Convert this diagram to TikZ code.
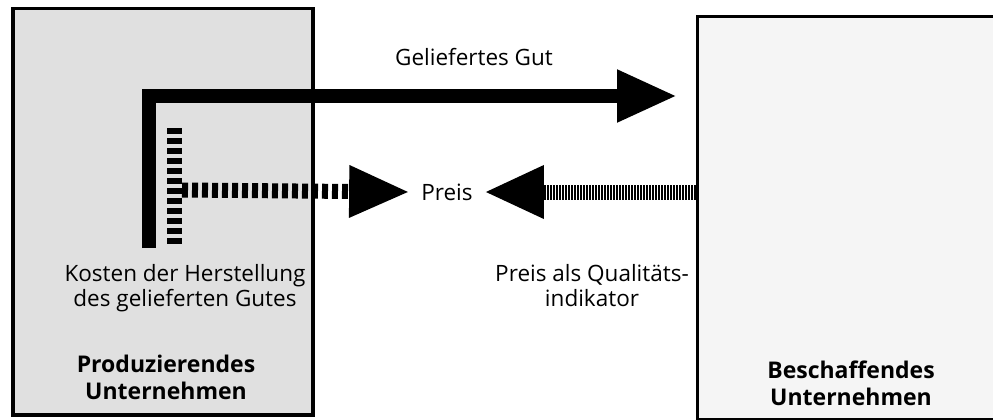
\documentclass[tikz,border=0pt]{standalone}
\usepackage{fontspec}
\setsansfont{Open Sans}
\usetikzlibrary{positioning, arrows.meta}

\begin{document}
\begin{tikzpicture}[x=1pt, y=-1pt,
  every node/.style={align=center, inner sep=0pt, font=\sffamily\fontsize{22.5}{25}\selectfont},
  firm/.style={rectangle, draw=black, line width=3.5pt, anchor=north west},
  firmname/.style={font=\sffamily\bfseries\fontsize{23}{27}\selectfont},
  goodsflow/.style={line width=14pt, line join=miter, -{Triangle[length=60pt, width=49pt]}},
  priceflow/.style={line width=15pt, dash pattern=on 6pt off 4pt},
  qualflow/.style={line width=15pt, dash pattern=on 2pt off 1pt}
]
\useasboundingbox (0,0) rectangle (993,420);

% Firms
\node[firm, fill=black!12, minimum width=300pt, minimum height=406pt] (prod) at (11,7) {};
\node[firm, fill=black!4, line width=3pt, minimum width=320pt, minimum height=402pt] (besch) at (696,15.5) {};
\node[firmname] (prodname) at (166,377) {Produzierendes\\Unternehmen};
\node[firmname] (beschname) at (851,383) {Beschaffendes\\Unternehmen};

% Labels
\node (gut) at (474,57) {Geliefertes Gut};
\node[inner xsep=11pt] (preis) at (447,192) {Preis};
\node (kosten) at (185,288) {Kosten der Herstellung\\des gelieferten Gutes};
\node (qual) at (592,286) {Preis als Qualitäts-\\indikator};

% Goods flow
\coordinate (gutstart) at (149,248);
\coordinate (gutend) at (677,96);
\draw[goodsflow] (gutstart) |- (gutend);

% Price flows
\coordinate (costtop) at (174.5,128);
\coordinate (costbot) at (174.5,246);
\coordinate (coststart) at (182,190);
\draw[priceflow] (costtop) -- (costbot);
\draw[priceflow, -{Triangle[length=61pt, width=48pt]}] (coststart) -- (preis.west);
\draw[qualflow, -{Triangle[length=60pt, width=49pt]}] (besch.west |- preis) -- (preis.east);

\end{tikzpicture}
\end{document}
